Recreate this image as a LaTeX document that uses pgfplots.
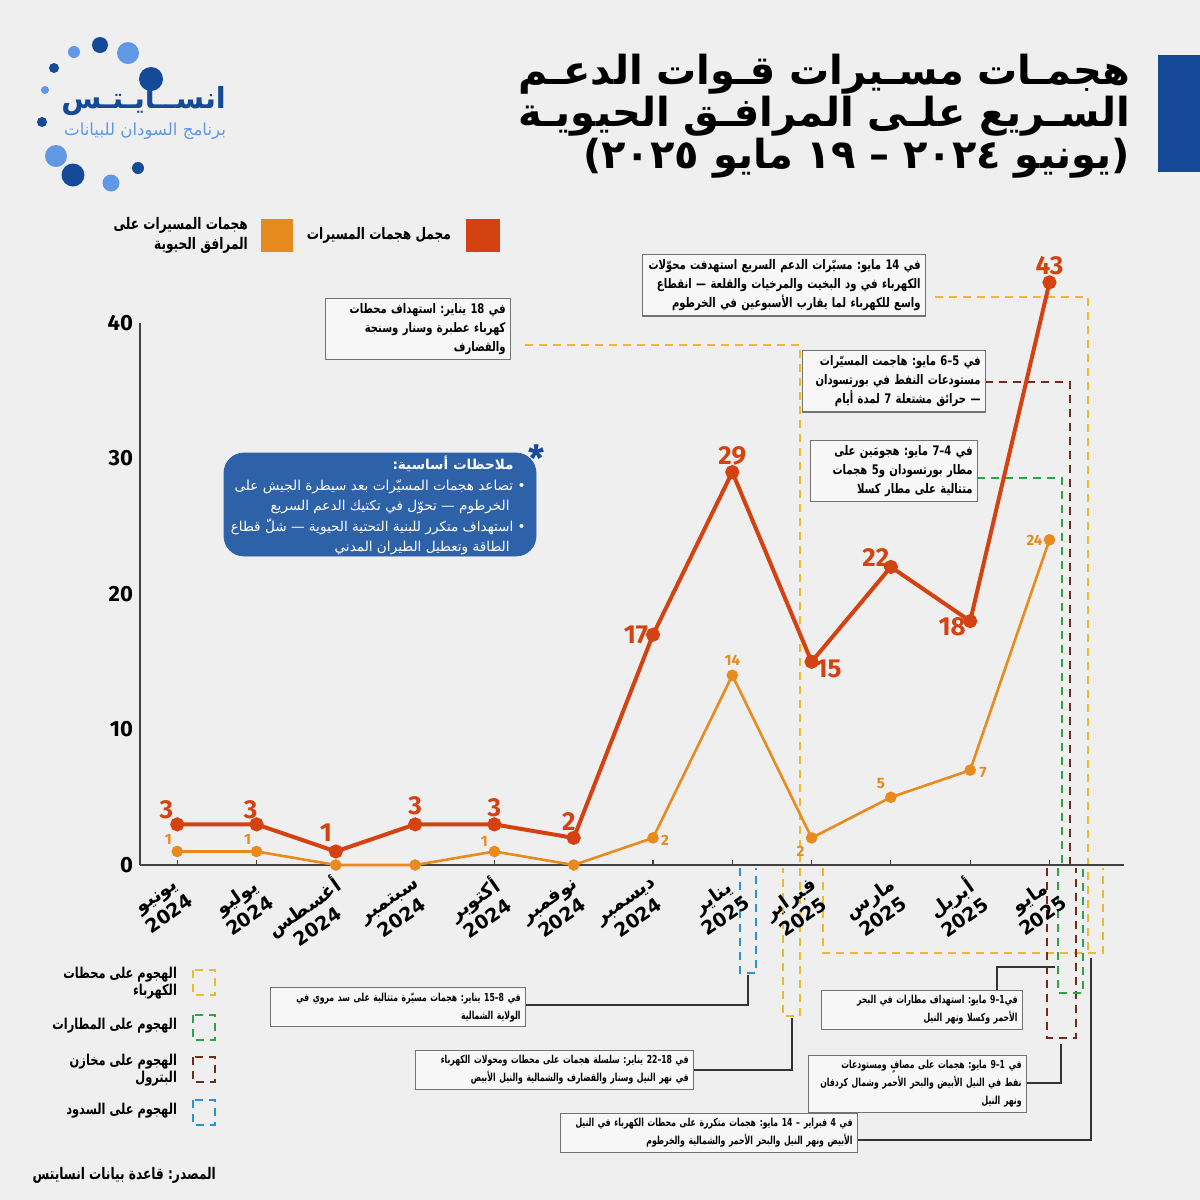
\documentclass[border=0pt]{standalone}
\usepackage{fontspec}
\usepackage{graphicx}
\usepackage{pgfplots}
\pgfplotsset{compat=1.18}
\setmainfont{Fira Sans}
\newfontfamily\ar[Script=Arabic]{DejaVu Sans}
\newfontfamily\arc[Script=Arabic, FakeStretch=0.76]{DejaVu Sans}
\newfontfamily\arn[Script=Arabic, FakeStretch=0.7]{DejaVu Sans}
\TeXXeTstate=1
\newcommand\R[1]{\beginR #1\endR}
% one right-set line of a box, squeezed to the box width if it is wider
\newsavebox\lnbox
\newcommand\FL[1]{\sbox\lnbox{\beginR #1\endR}%
  \ifdim\wd\lnbox>\hsize
    \hbox to\hsize{\resizebox{\hsize}{\height}{\usebox\lnbox}}%
  \else
    \hbox to\hsize{\hss\usebox\lnbox}%
  \fi}

\definecolor{bg}{RGB}{239,239,239}
\definecolor{totred}{RGB}{212,66,18}
\definecolor{vitorg}{RGB}{232,138,30}
\definecolor{ylw}{RGB}{236,186,46}
\definecolor{grn}{RGB}{46,164,70}
\definecolor{brn}{RGB}{112,44,28}
\definecolor{dam}{RGB}{36,150,212}
\definecolor{navy}{RGB}{20,74,152}
\definecolor{sky}{RGB}{96,152,230}
\definecolor{notes}{RGB}{46,98,168}

\tikzset{
  dsh/.style={line width=1.3pt, dash pattern=on 4pt off 3pt},
  con/.style={black!80, line width=0.6pt},
  abox/.style={draw=black!55, line width=0.6pt, fill=white, fill opacity=0.55,
    text opacity=1, inner sep=2.5pt, anchor=north west},
  bigf/.style={font=\arc\bfseries\fontsize{6.6}{9.5}\selectfont},
  smf/.style={font=\arn\bfseries\fontsize{5.5}{9}\selectfont},
  lblR/.style={totred, font=\bfseries\fontsize{13}{13}\selectfont, inner sep=0pt},
  lblO/.style={vitorg, font=\bfseries\fontsize{7.5}{8}\selectfont, inner sep=0pt},
}
\newcommand\rl[4]{\node[lblR, xshift=#3, yshift=#4] at (axis cs:#1,#2) {#2};}
\newcommand\ol[4]{\node[lblO, xshift=#3, yshift=#4] at (axis cs:#1,#2) {#2};}

\begin{document}
\frenchspacing
\begin{tikzpicture}
% background and the dashed guide brackets (pixel units, y down)
\begin{scope}[x=0.5pt,y=-0.5pt]
\fill[bg] (0,0) rectangle (1200,1200);
% power stations
\draw[ylw,dsh] (525,345) -- (800,345) -- (800,1016) -- (783,1016) -- (783,868);
\draw[ylw,dsh] (935,297) -- (1088,297) -- (1088,953);
\draw[ylw,dsh] (823,868) -- (823,953) -- (1103,953) -- (1103,868);
% oil depots
\draw[brn,dsh] (985,382) -- (1070,382) -- (1070,868);
\draw[brn,dsh] (1047,868) -- (1047,1038) -- (1076,1038) -- (1076,868);
% airports
\draw[grn,dsh] (977,478) -- (1062,478) -- (1062,868);
\draw[grn,dsh] (1058,868) -- (1058,993) -- (1083,993) -- (1083,868);
% dams
\draw[dam,dsh] (740,868) -- (740,973) -- (756,973) -- (756,868);
% connectors
\draw[con] (525,1005) -- (748,1005) -- (748,975);
\draw[con] (693,1070) -- (792,1070) -- (792,1018);
\draw[con] (997,990) -- (997,967) -- (1055,967);
\draw[con] (1026,1083) -- (1061,1083) -- (1061,1044);
\draw[con] (857,1140) -- (1091,1140) -- (1091,958);
\end{scope}

\begin{axis}[
  at={(70pt,-432.5pt)}, anchor=south west,
  scale only axis, width=492pt, height=271pt,
  xmin=-0.47, xmax=11.94, ymin=0, ymax=40,
  axis x line=bottom, axis y line=left,
  axis line style={-, draw=black!75, line width=0.8pt},
  xtick={0,...,11}, ytick={0,10,20,30,40},
  tick align=inside, major tick length=2.5pt,
  tick style={draw=black!75, line width=0.6pt},
  ytick style={draw=none},
  xticklabels={
    {\R{يونيو}\\2024}, {\R{يوليو}\\2024}, {\R{أغسطس}\\2024},
    {\R{سبتمبر}\\2024}, {\R{أكتوبر}\\2024}, {\R{نوفمبر}\\2024},
    {\R{ديسمبر}\\2024}, {\R{يناير}\\2025}, {\R{فبراير}\\2025},
    {\R{مارس}\\2025}, {\R{أبريل}\\2025}, {\R{مايو}\\2025}},
  xticklabel style={xshift=7pt, yshift=-11pt, rotate=35, anchor=east,
    align=center, font=\ar\bfseries\fontsize{9.5}{11.5}\selectfont},
  yticklabel style={font=\bfseries\fontsize{11}{12}\selectfont},
  /pgf/number format/assume math mode=true,
  clip=false,
]
% vital facilities
\addplot[vitorg, line width=1.3pt, mark=*, mark size=2.2pt] coordinates {
  (0,1) (1,1) (2,0) (3,0) (4,1) (5,0) (6,2) (7,14) (8,2) (9,5) (10,7) (11,24)};
% all drone attacks
\addplot[totred, line width=2pt, mark=*, mark size=2.5pt] coordinates {
  (0,3) (1,3) (2,1) (3,3) (4,3) (5,2) (6,17) (7,29) (8,15) (9,22) (10,18) (11,43)};

\rl{0}{3}{-5.5pt}{7.5pt}
\rl{1}{3}{-3pt}{7.5pt}
\rl{2}{1}{-5pt}{9.5pt}
\rl{3}{3}{0pt}{9.5pt}
\rl{4}{3}{0pt}{8.5pt}
\rl{5}{2}{-2.5pt}{8pt}
\rl{6}{17}{-8.5pt}{0pt}
\rl{7}{29}{0pt}{8pt}
\rl{8}{15}{8.5pt}{-3.5pt}
\rl{9}{22}{-7.5pt}{4.5pt}
\rl{10}{18}{-9pt}{-3pt}
\rl{11}{43}{0pt}{8.5pt}

\ol{0}{1}{-4.5pt}{6pt}
\ol{1}{1}{-4.5pt}{6pt}
\ol{4}{1}{-5pt}{5pt}
\ol{6}{2}{6pt}{-1pt}
\ol{7}{14}{0pt}{7.5pt}
\ol{8}{2}{-5.5pt}{-6.5pt}
\ol{9}{5}{-5pt}{7pt}
\ol{10}{7}{6.5pt}{-1pt}
\ol{11}{24}{-7.5pt}{0pt}
\end{axis}

\begin{scope}[x=0.5pt,y=-0.5pt]
% blue bar and title
\fill[navy] (1158,55) rectangle (1200,172);
\node[anchor=east, align=right, font=\ar\bfseries\fontsize{20}{20}\selectfont]
  at (1137,116) {\R{هجمـات مسـيرات قـوات الدعـم}\\\R{السـريع علـى المرافـق الحيويـة}\\\R{(يونيو ٢٠٢٤ – ١٩ مايو ٢٠٢٥)}};

% logo
\foreach \x/\y/\r in {100/45/8, 151/79/12, 54/68/5, 42/122/5, 73/175/11.5, 138/168/6}
  \fill[navy] (\x,\y) circle[radius=\r];
\foreach \x/\y/\r in {128/53/11, 74/52/6, 45/90/4, 56/156/11, 111/183/8.5}
  \fill[sky] (\x,\y) circle[radius=\r];
\node[anchor=east, navy, font=\ar\bfseries\fontsize{14.5}{15}\selectfont] at (233,101) {\R{انســايـتـس}};
\node[anchor=east, sky, font=\ar\fontsize{8.3}{9}\selectfont] at (233,131) {\R{برنامج السودان للبيانات}};

% series legend
\fill[totred] (466,219) rectangle (500,252);
\node[anchor=east, font=\arc\bfseries\fontsize{8}{10}\selectfont] at (458,235) {\R{مجمل هجمات المسيرات}};
\fill[vitorg] (261,219) rectangle (293,252);
\node[anchor=east, align=right, font=\arc\bfseries\fontsize{8}{10}\selectfont] at (255,235)
  {\R{هجمات المسيرات على}\\\R{المرافق الحيوية}};

% annotation boxes above the axis
\node[abox, bigf, text width=87.5pt] at (325,298)
  {\vbox{\FL{في 18 يناير: استهداف محطات}\FL{كهرباء عطبرة وسنار وسنجة}\FL{والقضارف}}};
\node[abox, bigf, text width=136.5pt] at (642,254)
  {\vbox{\FL{في 14 مايو: مسيّرات الدعم السريع استهدفت محوّلات}\FL{الكهرباء في ود البخيت والمرخيات والقلعة — انقطاع}\FL{واسع للكهرباء لما يقارب الأسبوعين في الخرطوم}}};
\node[abox, bigf, text width=86.5pt] at (802,350)
  {\vbox{\FL{في 5–6 مايو: هاجمت المسيّرات}\FL{مستودعات النفط في بورتسودان}\FL{— حرائق مشتعلة 7 لمدة أيام}}};
\node[abox, bigf, text width=78.5pt] at (810,440)
  {\vbox{\FL{في 4–7 مايو: هجومَين على}\FL{مطار بورتسودان و5 هجمات}\FL{متتالية على مطار كسلا}}};

% notes
\draw[notes, fill=notes, rounded corners=10pt] (224,453) rectangle (536,556);
\node[anchor=north east, align=right, white, inner sep=0pt,
  font=\ar\fontsize{6.8}{10.2}\selectfont] at (526,456)
  {\textbf{\R{ملاحظات أساسية:}}\kern6pt\\
   \R{• تصاعد هجمات المسيّرات بعد سيطرة الجيش على}\\
   \R{الخرطوم — تحوّل في تكتيك الدعم السريع}\kern8pt\\
   \R{• استهداف متكرر للبنية التحتية الحيوية — شلّ قطاع}\\
   \R{الطاقة وتعطيل الطيران المدني}\kern8pt};
\node[navy, font=\bfseries\fontsize{18}{18}\selectfont] at (537,458) {*};

% annotation boxes below the axis
\node[abox, smf, text width=122.5pt] at (270,987)
  {\vbox{\FL{في 8–15 يناير: هجمات مسيّرة متتالية على سد مروي في}\FL{الولاية الشمالية}}};
\node[abox, smf, text width=134pt] at (415,1050)
  {\vbox{\FL{في 18–22 يناير: سلسلة هجمات على محطات ومحولات الكهرباء}\FL{في نهر النيل وسنار والقضارف والشمالية والنيل الأبيض}}};
\node[abox, smf, text width=95.5pt] at (821,990)
  {\vbox{\FL{في1–9 مايو: استهداف مطارات في البحر}\FL{الأحمر وكسلا ونهر النيل}}};
\node[abox, smf, text width=104pt] at (808,1055)
  {\vbox{\FL{في 1–9 مايو: هجمات على مصافٍ ومستودعات}\FL{نفط في النيل الأبيض والبحر الأحمر وشمال كردفان}\FL{ونهر النيل}}};
\node[abox, smf, text width=143.5pt] at (560,1113)
  {\vbox{\FL{في 4 فبراير – 14 مايو: هجمات متكررة على محطات الكهرباء في النيل}\FL{الأبيض ونهر النيل والبحر الأحمر والشمالية والخرطوم}}};

% bracket legend
\draw[ylw,dsh] (193,970) rectangle (215,995);
\draw[grn,dsh] (193,1015) rectangle (215,1040);
\draw[brn,dsh] (193,1057) rectangle (215,1082);
\draw[dam,dsh] (193,1100) rectangle (215,1125);
\begin{scope}[every node/.style={anchor=east, align=right, font=\arc\bfseries\fontsize{7.5}{8.5}\selectfont}]
\node at (184,983) {\R{الهجوم على محطات}\\\R{الكهرباء}};
\node at (184,1026) {\R{الهجوم على المطارات}};
\node at (184,1070) {\R{الهجوم على مخازن}\\\R{البترول}};
\node at (184,1111) {\R{الهجوم على السدود}};
\end{scope}
\node[anchor=east, font=\arc\bfseries\fontsize{8}{10}\selectfont] at (223,1175) {\R{المصدر: قاعدة بيانات انسايتس}};
\end{scope}

\pgfresetboundingbox
\path[use as bounding box] (0,0) rectangle (600pt,-600pt);
\end{tikzpicture}
\end{document}
